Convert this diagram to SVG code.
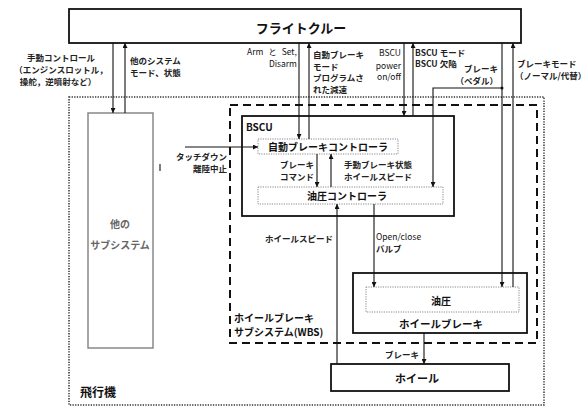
<svg xmlns="http://www.w3.org/2000/svg" width="586" height="408" viewBox="0 0 586 408">
<defs>
<marker id="ah" viewBox="0 0 6 6" refX="6" refY="3" markerWidth="5" markerHeight="5" orient="auto" markerUnits="userSpaceOnUse">
<path d="M0,0 L6,3 L0,6 z" fill="#111"/>
</marker>
</defs>
<style>
text{font-family:"Noto Sans CJK JP","Noto Sans",sans-serif;fill:#111}
.lbl{font-size:8.5px;font-weight:700;fill:#222}
.lat{font-size:8.5px;font-weight:400}
.node{font-size:10px;font-weight:700}
.solid{fill:#fff;stroke:#111;stroke-width:1.8}
.dot{fill:#fff;stroke:#888;stroke-width:1;stroke-dasharray:1.2 1.2}
.conn{fill:none;stroke:#111;stroke-width:1.1}
.c{text-anchor:middle}
.e{text-anchor:end}
</style>
<rect width="586" height="408" fill="#fff"/>

<g id="airplane">
<rect x="69" y="97" width="475" height="308" fill="none" stroke="#333" stroke-width="1.5" stroke-dasharray="1.3 1.3"/>
<text x="80" y="397" style="font-size:12px;font-weight:700">飛行機</text>
</g>

<g id="wbs">
<rect x="230" y="105" width="307" height="238" fill="none" stroke="#111" stroke-width="2" stroke-dasharray="8 5"/>
<text x="234" y="322" class="node">ホイールブレーキ</text>
<text x="234" y="336" class="node">サブシステム(WBS)</text>
</g>

<g id="flight-crew">
<rect x="69" y="9" width="452" height="34" class="solid" stroke-width="2"/>
<text x="301" y="33" class="c" style="font-size:13px;font-weight:700">フライトクルー</text>
</g>

<g id="other-subsystems">
<rect x="88" y="113" width="65" height="235" fill="#fff" stroke="#888" stroke-width="1.5"/>
<text x="120" y="228" class="c" style="font-size:10px;font-weight:700;fill:#666">他の</text>
<text x="120" y="249" class="c" style="font-size:10px;font-weight:700;fill:#666">サブシステム</text>
</g>

<g id="bscu">
<rect x="242" y="116" width="212" height="100" class="solid"/>
<text x="246" y="131" class="node">BSCU</text>
</g>

<g id="autobrake-controller">
<rect x="258" y="139" width="140" height="15" class="dot"/>
<text x="328" y="151" class="c node">自動ブレーキコントローラ</text>
</g>

<g id="hydraulic-controller">
<rect x="258" y="187" width="185" height="17" class="dot"/>
<text x="347" y="199.5" class="c node">油圧コントローラ</text>
</g>

<g id="wheel-brake">
<rect x="353" y="273" width="174" height="60" class="solid"/>
<text x="441" y="328" class="c" style="font-size:10.5px;font-weight:700">ホイールブレーキ</text>
</g>

<g id="hydraulic">
<rect x="366" y="287" width="153" height="25" class="dot"/>
<text x="441" y="305" class="c node">油圧</text>
</g>

<g id="wheel">
<rect x="331" y="364" width="178" height="27" class="solid"/>
<text x="417" y="383" class="c" style="font-size:11px;font-weight:700">ホイール</text>
</g>

<g id="connectors">
<path class="conn" d="M113,43 V113" marker-end="url(#ah)"/>
<path class="conn" d="M125,113 V43" marker-end="url(#ah)"/>
<path class="conn" d="M299,43 V139" marker-end="url(#ah)"/>
<path class="conn" d="M309,139 V43" marker-end="url(#ah)"/>
<path class="conn" d="M404,43 V116" marker-end="url(#ah)"/>
<path class="conn" d="M413,116 V43" marker-end="url(#ah)"/>
<path class="conn" d="M502,43 V287" marker-end="url(#ah)"/>
<path class="conn" d="M502,88 H433 V187" marker-end="url(#ah)"/>
<circle cx="502" cy="88" r="1.5" fill="#111"/>
<path class="conn" d="M513,287 V43" marker-end="url(#ah)"/>
<path class="conn" d="M185,147 H258" marker-end="url(#ah)"/>
<path class="conn" d="M317,154 V187" marker-end="url(#ah)"/>
<path class="conn" d="M331,187 V154" marker-end="url(#ah)"/>
<path class="conn" d="M337,364 V204" marker-end="url(#ah)"/>
<path class="conn" d="M374,204 V287" marker-end="url(#ah)"/>
<path class="conn" d="M424,333 V364" marker-end="url(#ah)"/>
<path class="conn" d="M160,164 V171"/>
</g>

<g id="labels">
<text x="61" y="61" class="c lbl">手動コントロール</text>
<text x="61" y="73" class="c lbl">（エンジンスロットル，</text>
<text x="58" y="85" class="c lbl">操舵，逆噴射など）</text>
<text x="130" y="64" class="lbl">他のシステム</text>
<text x="130" y="76" class="lbl">モード、状態</text>
<text x="297" y="55" class="e lat" style="word-spacing:3px">Arm と Set,</text>
<text x="297" y="67" class="e lat">Disarm</text>
<text x="313" y="58" class="lbl">自動ブレーキ</text>
<text x="313" y="70" class="lbl">モード</text>
<text x="313" y="81" class="lbl">プログラムさ</text>
<text x="313" y="93" class="lbl">れた減速</text>
<text x="401" y="56" class="e lat">BSCU</text>
<text x="401" y="69" class="e lat">power</text>
<text x="401" y="80" class="e lat">on/off</text>
<text x="415" y="56" class="lbl">BSCU モード</text>
<text x="415" y="67" class="lbl">BSCU 欠陥</text>
<text x="498" y="72" class="e lbl">ブレーキ</text>
<text x="498" y="84" class="e lbl">（ペダル）</text>
<text x="517" y="67" class="lbl">ブレーキモード</text>
<text x="515" y="79" class="lbl">（ノーマル/代替）</text>
<text x="227" y="160" class="e lbl">タッチダウン</text>
<text x="227" y="172" class="e lbl">離陸中止</text>
<text x="314" y="168" class="e lbl">ブレーキ</text>
<text x="314" y="180" class="e lbl">コマンド</text>
<text x="344" y="168" class="lbl">手動ブレーキ状態</text>
<text x="344" y="180" class="lbl">ホイールスピード</text>
<text x="333" y="242" class="e lbl">ホイールスピード</text>
<text x="376" y="240" class="lat">Open/close</text>
<text x="376" y="252" class="lbl">バルブ</text>
<text x="419" y="358" class="e lbl">ブレーキ</text>
</g>
</svg>
